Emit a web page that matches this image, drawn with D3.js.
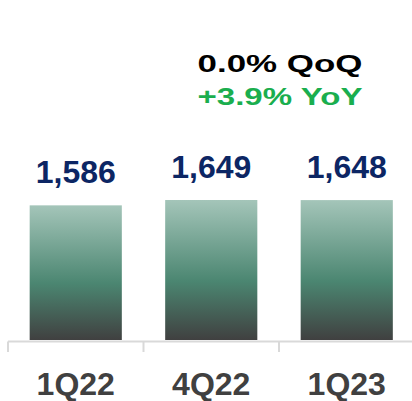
<!DOCTYPE html>
<html lang="en">
<head>
    <meta charset="UTF-8">
    <title>quarterly bars</title>
    <script src="https://d3js.org/d3.v7.min.js"></script>
    <style>
        body {
            margin: 0;
            background: #fff;
            overflow: hidden;
        }

        text {
            font-family: "Liberation Sans", Arial, sans-serif;
            font-weight: bold;
        }
    </style>
</head>
<body>
    <div id="chart"></div>

<script>
    // data
    let quarters = ["1Q22", "4Q22", "1Q23"];
    let values = [1586, 1649, 1648];
    let notes = ["0.0% QoQ", "+3.9% YoY"];

    let width = 412,
        height = 401;

    let svg = d3.select("#chart").append("svg")
        .attr("width", width)
        .attr("height", height);

    // green -> dark gray gradient on the bars
    let grad = svg.append("defs").append("linearGradient")
        .attr("id", "barGrad")
        .attr("x1", 0).attr("y1", 0)
        .attr("x2", 0).attr("y2", 1);
    grad.append("stop").attr("offset", "0%").attr("stop-color", "#a4c5b9");
    grad.append("stop").attr("offset", "58%").attr("stop-color", "#4b8671");
    grad.append("stop").attr("offset", "100%").attr("stop-color", "#404040");

    let x = d3.scaleBand()
        .domain(quarters)
        .range([8, 414.5])
        .paddingInner(0.32)
        .paddingOuter(0.16);

    let y = d3.scaleLinear()
        .domain([0, 1649])
        .range([340, 200]);

    svg.selectAll(".bar")
        .data(values)
        .enter().append("rect")
        .attr("class", "bar")
        .attr("x", (d, i) => x(quarters[i]))
        .attr("y", d => y(d))
        .attr("width", x.bandwidth())
        .attr("height", d => y(0) - y(d))
        .style("fill", "url(#barGrad)");

    // axis line + tick marks between categories
    let step = x.step();
    let axis = svg.append("g").attr("stroke", "#d9d9d9").attr("stroke-width", 2);
    axis.append("line")
        .attr("x1", 8).attr("x2", width)
        .attr("y1", y(0) + 1.5).attr("y2", y(0) + 1.5);
    axis.selectAll(".tick")
        .data(d3.range(quarters.length + 1))
        .enter().append("line")
        .attr("x1", i => 8 + i * step).attr("x2", i => 8 + i * step)
        .attr("y1", y(0) + 1.5).attr("y2", y(0) + 12);

    // value labels
    svg.selectAll(".val")
        .data(values)
        .enter().append("text")
        .attr("class", "val")
        .attr("x", (d, i) => x(quarters[i]) + x.bandwidth() / 2)
        .attr("y", d => y(d) - 22)
        .attr("text-anchor", "middle")
        .style("font-size", "32px")
        .style("fill", "#0c2664")
        .text(d => d3.format(",")(d));

    // category labels
    svg.selectAll(".cat")
        .data(quarters)
        .enter().append("text")
        .attr("class", "cat")
        .attr("x", d => x(d) + x.bandwidth() / 2)
        .attr("y", 395)
        .attr("text-anchor", "middle")
        .style("font-size", "32px")
        .style("fill", "#404040")
        .text(d => d);

    // QoQ / YoY notes
    svg.selectAll(".note")
        .data(notes)
        .enter().append("text")
        .attr("class", "note")
        .attr("x", 280)
        .attr("y", (d, i) => 72 + i * 33)
        .attr("text-anchor", "middle")
        .attr("textLength", 165)
        .attr("lengthAdjust", "spacingAndGlyphs")
        .style("font-size", "24px")
        .style("fill", (d, i) => i === 0 ? "#000" : "#1aae4e")
        .text(d => d);
</script>
</body>
</html>
